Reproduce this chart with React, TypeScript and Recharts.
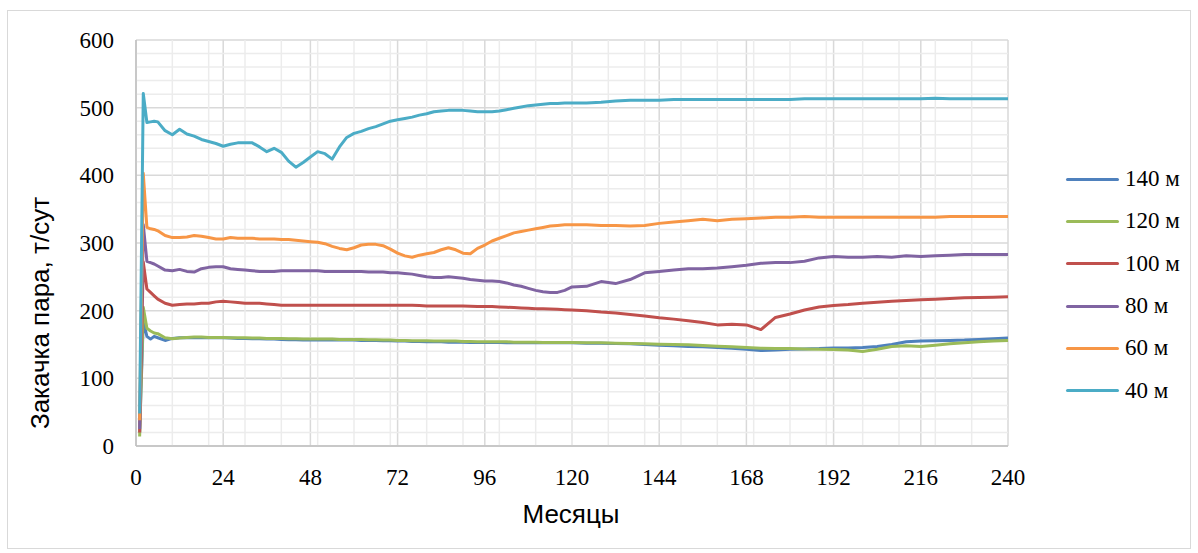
import { LineChart, Line, XAxis, YAxis, CartesianGrid, Legend, ReferenceLine } from 'recharts';

// месяцы расчёта (шаг 2 мес. до 120, далее 4 мес.)
const months = [
  1, 2, 3, 4, 5, 6, 8, 10, 12, 14,
  16, 18, 20, 22, 24, 26, 28, 30, 32, 34,
  36, 38, 40, 42, 44, 46, 48, 50, 52, 54,
  56, 58, 60, 62, 64, 66, 68, 70, 72, 74,
  76, 78, 80, 82, 84, 86, 88, 90, 92, 94,
  96, 98, 100, 102, 104, 106, 108, 110, 112, 114,
  116, 118, 120, 124, 128, 132, 136, 140, 144, 148,
  152, 156, 160, 164, 168, 172, 176, 180, 184, 188,
  192, 196, 200, 204, 208, 212, 216, 220, 224, 228,
  232, 236, 240,
];

// закачка пара, т/сут
const steam140 = [
  20, 185, 162, 158, 162, 160, 156, 159, 160, 160,
  160.5, 160, 160, 160, 160, 159.5, 159, 159, 158.5, 158.5,
  158, 158, 157.5, 157, 157, 156.5, 156.5, 156.5, 156.5, 156.5,
  156.5, 156.5, 156.5, 156, 156, 156, 155.5, 155.5, 155, 155,
  154.5, 154.5, 154, 154, 154, 153.5, 153.5, 153.5, 153, 153,
  153, 153, 153, 152.5, 152.5, 152.5, 152.5, 152.5, 152.5, 152.5,
  152.5, 152.5, 152.5, 152, 152, 151.5, 151, 150, 149, 148,
  147, 146.5, 145.5, 144.5, 143, 141, 142, 143, 143.5, 144,
  145, 145, 145.5, 147, 150, 154, 155, 155.5, 156, 156.5,
  157.5, 158.5, 159.5,
];

const steam120 = [
  14, 205, 174, 170, 167, 166, 160, 158.5, 159.5, 160.5,
  161, 161, 160.5, 160.5, 160.5, 160, 160, 160, 159.5, 159.5,
  159, 159, 159, 158.5, 158.5, 158, 158, 158, 158, 158,
  157.5, 157.5, 157.5, 157.5, 157, 157, 156.5, 156.5, 156, 156,
  155.5, 155.5, 155.5, 155, 155, 155, 155, 154.5, 154.5, 154,
  154, 154, 154, 154, 153.5, 153.5, 153.5, 153.5, 153, 153,
  153, 153, 153, 152.5, 152.5, 152, 151.5, 151, 150.5, 150,
  149.5, 148.5, 147.5, 146.5, 145.5, 144.5, 144, 144, 143.5, 143,
  142.5, 142, 139.5, 143, 147, 148, 147, 149, 151, 152.5,
  154, 155, 156,
];

const steam100 = [
  20, 272, 232, 227, 222, 217, 211, 208, 209, 210,
  210, 211, 211, 213, 214, 213, 212, 211, 211, 211,
  210, 209, 208, 208, 208, 208, 208, 208, 208, 208,
  208, 208, 208, 208, 208, 208, 208, 208, 208, 208,
  208, 207.5, 207, 207, 207, 207, 207, 207, 206.5, 206,
  206, 206, 205.5, 205, 204.5, 204, 203.5, 203, 203, 202.5,
  202, 201.5, 201, 200, 198, 196.5, 194.5, 192, 189.5, 187.5,
  185, 182.5, 179, 180, 179, 172, 190, 195, 201, 205.5,
  207.5, 209, 211, 212.5, 214, 215, 216, 217, 218, 219,
  219.5, 220, 220.5,
];

const steam80 = [
  25, 327, 273, 271, 269, 266, 260, 259, 261, 258,
  257, 262, 264, 265, 265, 262, 261, 260, 259, 258,
  258, 258, 259, 259, 259, 259, 259, 259, 258, 258,
  258, 258, 258, 258, 257, 257, 257, 256, 256, 255,
  254, 252, 250, 249, 249, 250, 249, 248, 246, 245,
  244, 244, 243, 241, 238, 236, 233, 230, 228, 227,
  227, 230, 235, 236, 243, 240, 246, 256, 258, 260,
  262, 262, 263, 265, 267, 270, 271, 271, 273, 278,
  280, 279, 279, 280, 279, 281, 280, 281, 282, 283,
  283, 283, 283,
];

const steam60 = [
  38, 403, 323, 321, 320, 318, 311, 308, 308, 309,
  311, 310, 308, 306, 306, 308, 307, 307, 307, 306,
  306, 306, 305, 305, 304, 303, 302, 301, 299, 295,
  292, 290, 293, 297, 298, 298, 296, 291, 285, 281,
  279, 282, 284, 286, 290, 293, 290, 285, 284, 292,
  297, 303, 307, 311, 315, 317, 319, 321, 323, 325,
  326, 327, 327, 327, 326, 326, 325, 326, 329, 331,
  333, 335, 333, 335, 336, 337, 338, 338, 339, 338,
  338, 338, 338, 338, 338, 338, 338, 338, 339, 339,
  339, 339, 339,
];

const steam40 = [
  48, 521, 478, 479, 480, 479, 466, 460, 468, 461,
  458, 453, 450, 447, 443, 446, 448, 448, 448, 442,
  435, 440, 434, 421, 412, 419, 427, 435, 432, 424,
  442, 456, 462, 465, 469, 472, 476, 480, 482, 484,
  486, 489, 491, 494, 495, 496, 496, 496, 495, 494,
  494, 494, 495, 497, 499, 501, 503, 504, 505, 506,
  506, 507, 507, 507, 508, 510, 511, 511, 511, 512,
  512, 512, 512, 512, 512, 512, 512, 512, 513, 513,
  513, 513, 513, 513, 513, 513, 513, 514, 513, 513,
  513, 513, 513,
];

const xTicks = [0, 24, 48, 72, 96, 120, 144, 168, 192, 216, 240];
const xMinor = [10, 20, 30, 40, 50, 60, 70, 80, 90, 100, 110, 120, 130, 140, 150, 160, 170, 180, 190, 200, 210, 220, 230];
const yTicks = [0, 100, 200, 300, 400, 500, 600];
const yMinor = [20, 40, 60, 80, 120, 140, 160, 180, 220, 240, 260, 280, 320, 340, 360, 380, 420, 440, 460, 480, 520, 540, 560, 580];

const series = [
  { key: 's140', name: '140 м', color: '#4F81BD', values: steam140 },
  { key: 's120', name: '120 м', color: '#9BBB59', values: steam120 },
  { key: 's100', name: '100 м', color: '#C0504D', values: steam100 },
  { key: 's80', name: '80 м', color: '#8064A2', values: steam80 },
  { key: 's60', name: '60 м', color: '#F79646', values: steam60 },
  { key: 's40', name: '40 м', color: '#4BACC6', values: steam40 },
];

const data = months.map((m, i) => {
  const row: Record<string, number> = { m };
  series.forEach((s) => {
    row[s.key] = s.values[i];
  });
  return row;
});

const W = 1198;
const H = 553;
const serif = 'Liberation Serif';
const sans = '"Liberation Sans", Arial, sans-serif';

const renderXTick = (p: any) => (
  <text x={p.x} y={p.y} dy={17} textAnchor="middle" fill="#000" fontFamily={serif} fontSize={23}>
    {p.payload.value}
  </text>
);

const renderYTick = (p: any) => (
  <text x={p.x} y={p.y} dy={8} textAnchor="end" fill="#000" fontFamily={serif} fontSize={23}>
    {p.payload.value}
  </text>
);

function LegendBox() {
  return (
    <div style={{ fontFamily: serif, fontSize: 23, color: '#000' }}>
      {series.map((s) => (
        <div key={s.key} style={{ display: 'flex', alignItems: 'center', height: 42.3 }}>
          <div style={{ width: 53, height: 3, background: s.color, borderRadius: 1.5, marginRight: 6 }} />
          <span>{s.name}</span>
        </div>
      ))}
    </div>
  );
}

export default function App() {
  return (
    <div style={{ position: 'absolute', left: 0, top: 0, width: W, height: H, background: '#fff', fontFamily: serif }}>
      <div
        style={{
          position: 'absolute',
          left: 7,
          top: 10,
          width: 1182,
          height: 537,
          border: '1px solid #d9d9d9',
        }}
      />
      <LineChart width={W} height={H} data={data} margin={{ top: 40, right: 190, bottom: 0, left: 0 }}>
        {/* вспомогательная сетка: через 10 мес. и 20 т/сут */}
        {xMinor.map((v) => (
          <ReferenceLine key={'x' + v} x={v} stroke="#ececec" strokeWidth={1.5} />
        ))}
        {yMinor.map((v) => (
          <ReferenceLine key={'y' + v} y={v} stroke="#ececec" strokeWidth={1.5} />
        ))}
        <CartesianGrid stroke="#d9d9d9" strokeWidth={1.5} />
        <XAxis
          dataKey="m"
          type="number"
          domain={[0, 240]}
          ticks={xTicks}
          interval={0}
          height={107}
          tickSize={0}
          tickMargin={22}
          axisLine={{ stroke: '#bfbfbf', strokeWidth: 1.5 }}
          tick={renderXTick}
        />
        <YAxis
          type="number"
          domain={[0, 600]}
          ticks={yTicks}
          interval={0}
          width={136}
          tickSize={0}
          tickMargin={22}
          axisLine={{ stroke: '#bfbfbf', strokeWidth: 1.5 }}
          tick={renderYTick}
        />
        <Legend
          layout="vertical"
          align="center"
          verticalAlign="middle"
          content={() => <LegendBox />}
          wrapperStyle={{ left: 1066, top: 158, width: 130 }}
        />
        {series.map((s) => (
          <Line
            key={s.key}
            dataKey={s.key}
            name={s.name}
            stroke={s.color}
            strokeWidth={3}
            dot={false}
            type="linear"
            strokeLinejoin="round"
            isAnimationActive={false}
          />
        ))}
      </LineChart>
      <div
        style={{
          position: 'absolute',
          left: 40,
          top: 313,
          transform: 'translate(-50%, -50%) rotate(-90deg)',
          whiteSpace: 'nowrap',
          fontFamily: sans,
          fontSize: 26,
          color: '#000',
        }}
      >
        Закачка пара, т/сут
      </div>
      <div
        style={{
          position: 'absolute',
          left: 571,
          top: 514,
          transform: 'translate(-50%, -50%)',
          whiteSpace: 'nowrap',
          fontFamily: sans,
          fontSize: 26,
          color: '#000',
        }}
      >
        Месяцы
      </div>
    </div>
  );
}
